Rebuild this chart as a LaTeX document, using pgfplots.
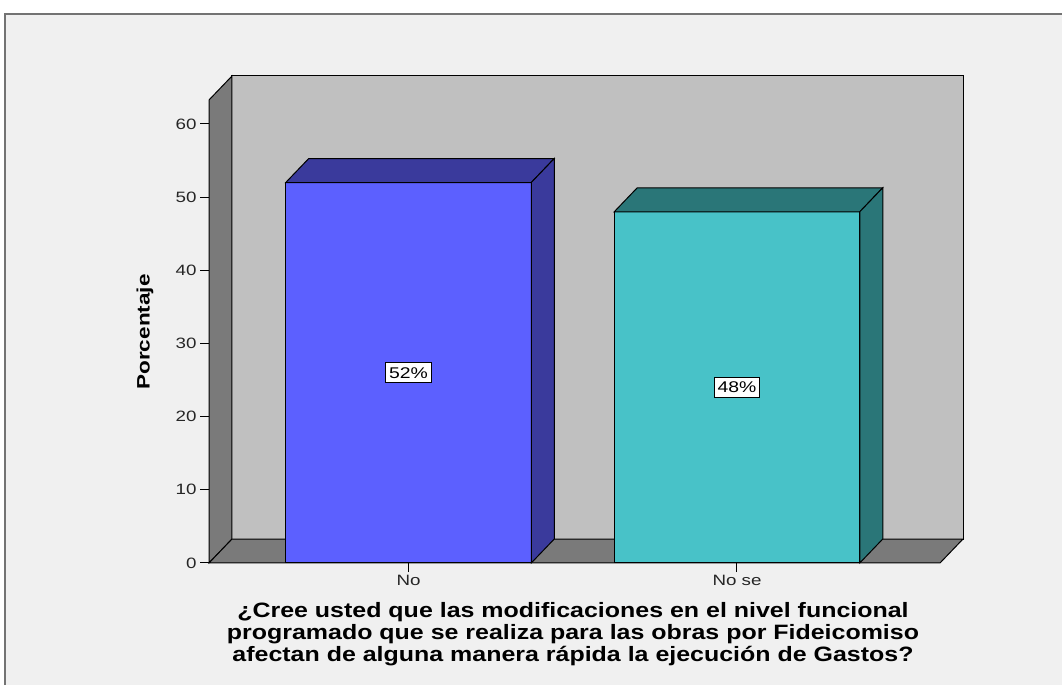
\documentclass[border=0pt]{standalone}
\usepackage{fontspec}
\setmainfont{Liberation Sans}[FakeStretch=1.25]
\newfontfamily\titlefont{Liberation Sans}[FakeStretch=1.2]
\usepackage{pgfplots}
\pgfplotsset{compat=1.18}

\definecolor{panel}{HTML}{F0F0F0}
\definecolor{wall}{HTML}{C0C0C0}
\definecolor{side}{HTML}{7A7A7A}
\definecolor{blueF}{HTML}{5C60FF}
\definecolor{blueD}{HTML}{3A3A9C}
\definecolor{tealF}{HTML}{48C2C8}
\definecolor{tealD}{HTML}{2A7678}

\begin{document}
\begin{tikzpicture}
  \useasboundingbox (0,0) rectangle (1062pt,685pt);
  \fill[white] (0,0) rectangle (1062pt,685pt);
  \fill[panel] (5pt,0) rectangle (1062pt,671pt);
  \draw[gray!90!black, line width=1.5pt] (5pt,0) -- (5pt,671pt) -- (1062pt,671pt);

  \begin{axis}[
    at={(209pt,122pt)}, anchor=south west,
    scale only axis, width=731pt, height=463pt,
    xmin=-0.6073, xmax=1.618, ymin=0, ymax=63.28,
    axis lines*=left,
    axis line style={black, line width=1pt},
    xtick={0,1}, xticklabels={No, No se},
    ytick={0,10,...,60},
    tick align=outside, major tick length=9pt,
    tick style={black, line width=1pt},
    clip=false,
    ticklabel style={font=\fontsize{15}{17}\selectfont, text=black!85},
    /pgf/number format/assume math mode=true,
  ]
    % 3D frame
    \addplot[fill=wall, draw=black, line width=1pt, forget plot]
      coordinates {(-0.5373,3.28) (1.688,3.28) (1.688,66.56) (-0.5373,66.56)} -- cycle;
    \addplot[fill=side, draw=black, line width=1pt, forget plot]
      coordinates {(-0.6073,0) (-0.6073,63.28) (-0.5373,66.56) (-0.5373,3.28)} -- cycle;
    \addplot[fill=side, draw=black, line width=1pt, forget plot]
      coordinates {(-0.6073,0) (1.618,0) (1.688,3.28) (-0.5373,3.28)} -- cycle;

    % No
    \addplot[ybar, bar shift=0pt, bar width=0.7473, fill=blueF, draw=black, line width=1pt]
      coordinates {(0,52)};
    \addplot[fill=blueD, draw=black, line width=1pt, forget plot]
      coordinates {(-0.3737,52) (0.3737,52) (0.4437,55.28) (-0.3037,55.28)} -- cycle;
    \addplot[fill=blueD, draw=black, line width=1pt, forget plot]
      coordinates {(0.3737,0) (0.4437,3.28) (0.4437,55.28) (0.3737,52)} -- cycle;

    % No se
    \addplot[ybar, bar shift=0pt, bar width=0.7473, fill=tealF, draw=black, line width=1pt]
      coordinates {(1,48)};
    \addplot[fill=tealD, draw=black, line width=1pt, forget plot]
      coordinates {(0.6263,48) (1.3737,48) (1.4437,51.28) (0.6963,51.28)} -- cycle;
    \addplot[fill=tealD, draw=black, line width=1pt, forget plot]
      coordinates {(1.3737,0) (1.4437,3.28) (1.4437,51.28) (1.3737,48)} -- cycle;

    \node[fill=white, draw=black, line width=0.8pt, inner xsep=3.5pt, inner ysep=4.5pt,
          font=\fontsize{15.5}{17}\selectfont] at (axis cs:0,26) {52\%};
    \node[fill=white, draw=black, line width=0.8pt, inner xsep=3.5pt, inner ysep=4.5pt,
          font=\fontsize{15.5}{17}\selectfont] at (axis cs:1,24) {48\%};
  \end{axis}

  \node[rotate=90, font=\fontsize{18}{20}\selectfont\bfseries] at (145pt,353pt) {Porcentaje};
  \node[align=center, font=\titlefont\fontsize{20.8}{22}\selectfont\bfseries] at (573pt,51pt)
    {¿Cree usted que las modificaciones en el nivel funcional\\
     programado que se realiza para las obras por Fideicomiso\\
     afectan de alguna manera rápida la ejecución de Gastos?};
\end{tikzpicture}
\end{document}
